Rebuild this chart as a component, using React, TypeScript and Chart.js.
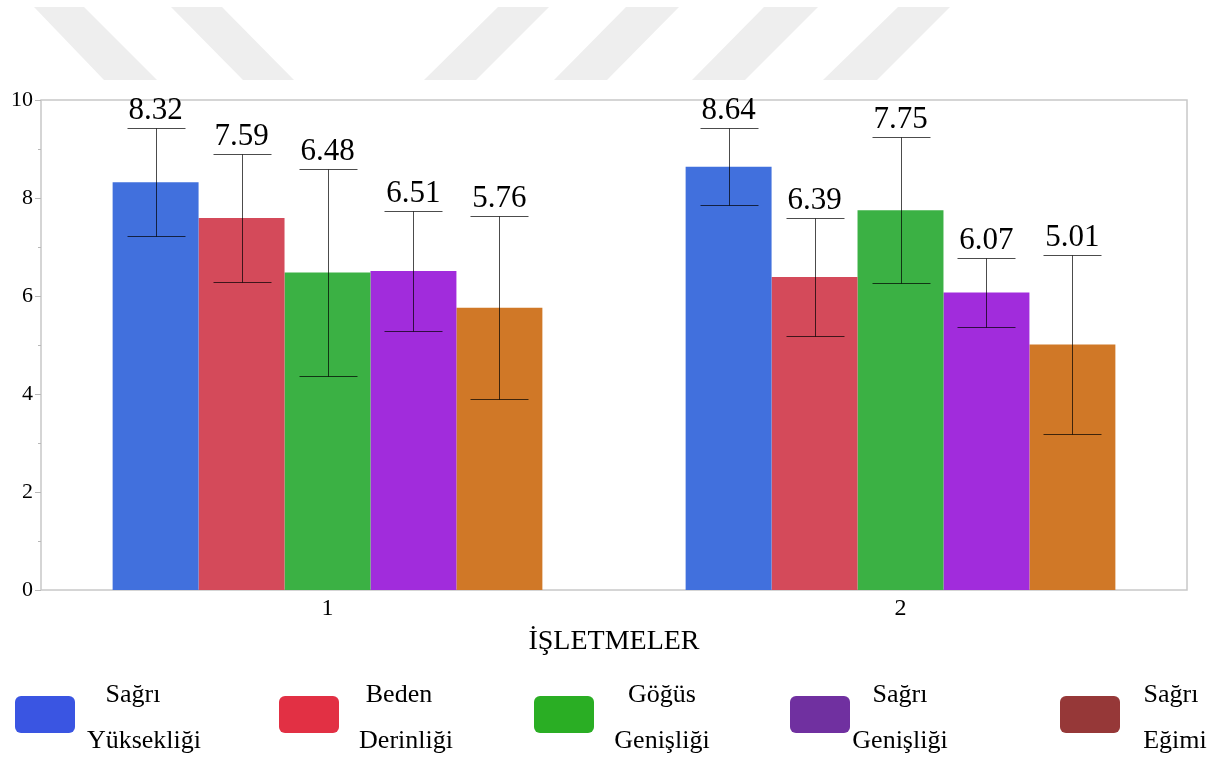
import React, { useEffect, useRef } from "react";
import { Chart, registerables } from "chart.js";

Chart.register(...registerables);

// ---------- data ----------
const categories = ["1", "2"];
const seriesLabels: string[][] = [
  ["Sağrı", "Yüksekliği"],
  ["Beden", "Derinliği"],
  ["Göğüs", "Genişliği"],
  ["Sağrı", "Genişliği"],
  ["Sağrı", "Eğimi"],
];
const sagriYuksekligi = [8.32, 8.64];
const bedenDerinligi = [7.59, 6.39];
const gogusGenisligi = [6.48, 7.75];
const sagriGenisligi = [6.51, 6.07];
const sagriEgimi = [5.76, 5.01];

const sagriYuksekligiSd = [1.1, 0.79];
const bedenDerinligiSd = [1.3, 1.2];
const gogusGenisligiSd = [2.12, 1.49];
const sagriGenisligiSd = [1.22, 0.7];
const sagriEgimiSd = [1.87, 1.83];

const yMin = 0;
const yMax = 10;
const yStep = 1;
const axisTitle = "İŞLETMELER";

// ---------- styles ----------
const barColors = ["#4170dd", "#d44a5a", "#3bb144", "#a12cdc", "#d07827"];
const legendColors = ["#3a55e2", "#e23044", "#2aae24", "#7030a0", "#963838"];
const FONT = "'Liberation Serif', 'Times New Roman', serif";

const legendSwatchLeft = [15, 279, 534, 790, 1060];
const legendLine1Center = [133, 399, 662, 900, 1171];
const legendLine2Center = [144, 406, 662, 900, 1175];

const watermarkPlugin = {
  id: "watermark",
  beforeDraw(chart: any) {
    const ctx = chart.ctx;
    const polys = [
      [[34, 7], [84, 7], [157, 80], [104, 80]],
      [[171, 7], [222, 7], [294, 80], [243, 80]],
      [[498, 7], [549, 7], [476, 80], [424, 80]],
      [[626, 7], [679, 7], [607, 80], [554, 80]],
      [[764, 7], [818, 7], [745, 80], [692, 80]],
      [[898, 7], [950, 7], [877, 80], [823, 80]],
    ];
    ctx.save();
    ctx.fillStyle = "#eeeeee";
    polys.forEach((p) => {
      ctx.beginPath();
      ctx.moveTo(p[0][0], p[0][1]);
      for (let i = 1; i < p.length; i++) ctx.lineTo(p[i][0], p[i][1]);
      ctx.closePath();
      ctx.fill();
    });
    ctx.restore();
  },
};

const framePlugin = {
  id: "frame",
  beforeDatasetsDraw(chart: any) {
    const { ctx, chartArea } = chart;
    const y = chart.scales.y;
    ctx.save();
    ctx.strokeStyle = "#c8c8c8";
    ctx.lineWidth = 1.5;
    ctx.strokeRect(chartArea.left, chartArea.top, chartArea.right - chartArea.left, chartArea.bottom - chartArea.top);
    ctx.lineWidth = 1;
    ctx.strokeStyle = "#b8b8b8";
    y.ticks.forEach((t: any) => {
      const py = Math.round(y.getPixelForValue(t.value)) + 0.5;
      const len = t.value % 2 === 0 ? 6 : 3;
      ctx.beginPath();
      ctx.moveTo(chartArea.left - len, py);
      ctx.lineTo(chartArea.left, py);
      ctx.stroke();
    });
    ctx.restore();
  },
};

const errorBarPlugin = {
  id: "errorBars",
  afterDatasetsDraw(chart: any) {
    const ctx = chart.ctx;
    const y = chart.scales.y;
    chart.data.datasets.forEach((ds: any, di: number) => {
      const meta = chart.getDatasetMeta(di);
      meta.data.forEach((bar: any, i: number) => {
        const v = ds.data[i];
        const sd = ds.sd[i];
        const hi = Math.round(y.getPixelForValue(v + sd)) + 0.5;
        const lo = Math.round(y.getPixelForValue(v - sd)) + 0.5;
        const x = Math.round(bar.x) + 0.5;
        const half = 29;
        ctx.save();
        ctx.strokeStyle = "rgba(0,0,0,0.7)";
        ctx.lineWidth = 1;
        ctx.beginPath();
        ctx.moveTo(x, hi);
        ctx.lineTo(x, lo);
        ctx.moveTo(x - half, hi);
        ctx.lineTo(x + half, hi);
        ctx.moveTo(x - half, lo);
        ctx.lineTo(x + half, lo);
        ctx.stroke();
        ctx.fillStyle = "#000";
        ctx.font = `31px ${FONT}`;
        ctx.textAlign = "center";
        ctx.textBaseline = "alphabetic";
        ctx.fillText(v.toFixed(2), bar.x, hi - 10);
        ctx.restore();
      });
    });
  },
};

export default function App() {
  const canvasRef = useRef<HTMLCanvasElement | null>(null);

  useEffect(() => {
    if (!canvasRef.current) return;
    const values = [sagriYuksekligi, bedenDerinligi, gogusGenisligi, sagriGenisligi, sagriEgimi];
    const sds = [sagriYuksekligiSd, bedenDerinligiSd, gogusGenisligiSd, sagriGenisligiSd, sagriEgimiSd];
    const chart = new Chart(canvasRef.current, {
      type: "bar",
      data: {
        labels: categories,
        datasets: values.map((d, i) => ({
          label: seriesLabels[i].join(" "),
          data: d,
          sd: sds[i],
          backgroundColor: barColors[i],
          borderWidth: 0,
          categoryPercentage: 0.75,
          barPercentage: 1.0,
        })) as any,
      },
      options: {
        responsive: true,
        maintainAspectRatio: false,
        animation: false,
        layout: { padding: { top: 100, right: 26, bottom: 100, left: 0 } },
        plugins: {
          legend: { display: false },
          tooltip: { enabled: false },
        },
        scales: {
          x: {
            grid: { display: false, drawTicks: false },
            border: { display: false },
            ticks: { font: { family: FONT, size: 24 }, color: "#000", padding: 4 },
            title: {
              display: true,
              text: axisTitle,
              font: { family: FONT, size: 28 },
              color: "#000",
              padding: { top: 1, bottom: 0 },
            },
            afterFit: (s: any) => {
              s.height = 68;
            },
          },
          y: {
            min: yMin,
            max: yMax,
            grid: { display: false, drawTicks: false },
            border: { display: false },
            ticks: {
              stepSize: yStep,
              autoSkip: false,
              font: { family: FONT, size: 22 },
              color: "#000",
              padding: 8,
              callback: (v: any) => (Number(v) % 2 === 0 ? String(v) : ""),
            },
            afterFit: (s: any) => {
              s.width = 41;
            },
          },
        },
      },
      plugins: [watermarkPlugin, framePlugin, errorBarPlugin],
    } as any);
    return () => chart.destroy();
  }, []);

  return (
    <div style={{ position: "absolute", left: 0, top: 0, width: 1213, height: 758, background: "#fff" }}>
      <canvas ref={canvasRef} />
      {seriesLabels.map((lines, i) => (
        <React.Fragment key={i}>
          <div
            style={{
              position: "absolute",
              left: legendSwatchLeft[i],
              top: 696,
              width: 60,
              height: 37,
              borderRadius: 6,
              background: legendColors[i],
            }}
          />
          <div
            style={{
              position: "absolute",
              left: legendLine1Center[i] - 80,
              width: 160,
              top: 681,
              textAlign: "center",
              font: `26px/26px ${FONT}`,
              color: "#000",
              whiteSpace: "nowrap",
            }}
          >
            {lines[0]}
          </div>
          <div
            style={{
              position: "absolute",
              left: legendLine2Center[i] - 80,
              width: 160,
              top: 727,
              textAlign: "center",
              font: `26px/26px ${FONT}`,
              color: "#000",
              whiteSpace: "nowrap",
            }}
          >
            {lines[1]}
          </div>
        </React.Fragment>
      ))}
    </div>
  );
}
